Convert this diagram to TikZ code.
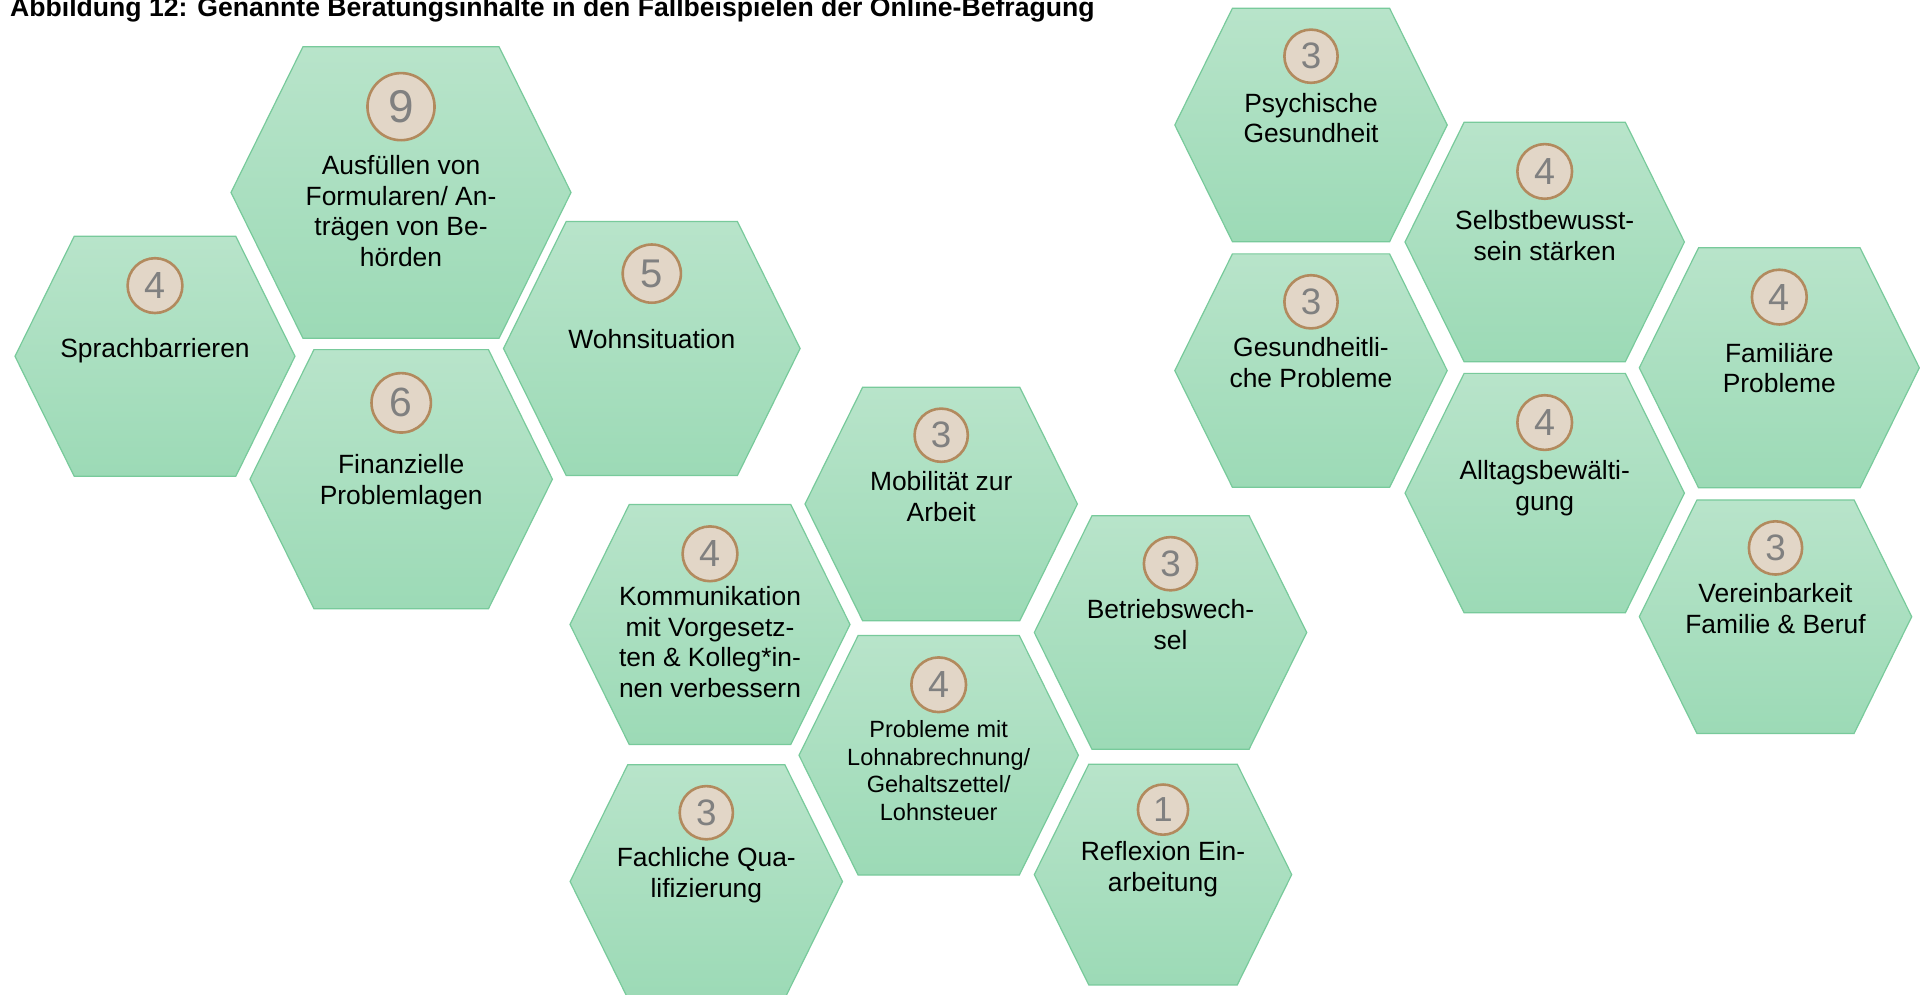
\documentclass[tikz,border=0pt]{standalone}
\usepackage{fontspec}
\setmainfont{Liberation Sans}
\definecolor{hextop}{HTML}{B8E4CA}
\definecolor{hexbot}{HTML}{9CDAB6}
\definecolor{hexline}{HTML}{78CA9B}
\definecolor{circfill}{HTML}{E2D6C7}
\definecolor{circline}{HTML}{B28A5E}
\definecolor{numgrey}{HTML}{808080}
\tikzset{
  hexfill/.style={draw=hexline, line width=1.2pt, top color=hextop, bottom color=hexbot, line join=miter},
  numcirc/.style={circle, fill=circfill, draw=circline, line width=2.6pt, inner sep=0pt, text=numgrey},
  hextext/.style={align=center, inner sep=0pt, anchor=north, text=black},
  bigfont/.style={font=\fontsize{26.4}{30.7}\selectfont},
  smallfont/.style={font=\fontsize{23.5}{27.6}\selectfont},
}
% #1 name, #2 cx, #3 cy, #4 half width, #5 number, #6 first baseline y, #7 text style, #8 first-line height, #9 text
\newcommand\hexcell[9]{%
  \pgfmathsetmacro\hxW{#4}%
  \pgfmathsetmacro\hxI{0.577*#4}%
  \pgfmathsetmacro\hxH{0.857*#4}%
  \pgfmathsetmacro\hxC{2*0.205*#4-2.6}%
  \pgfmathsetmacro\hxF{0.27*#4}%
  \path[hexfill] (#2-\hxW,#3) -- (#2-\hxI,#3-\hxH) -- (#2+\hxI,#3-\hxH) -- (#2+\hxW,#3) -- (#2+\hxI,#3+\hxH) -- (#2-\hxI,#3+\hxH) -- cycle;
  \node[numcirc, minimum size=\hxC pt, font=\fontsize{\hxF}{\hxF}\selectfont] (#1n) at (#2,#3-0.505*#4) {#5};
  \node[hextext, #7] (#1t) at (#2,#6-#8) {#9};
}
\begin{document}
\begin{tikzpicture}[x=1pt,y=-1pt]
\useasboundingbox (0,0) rectangle (1921,995);
\node[anchor=base west, inner sep=0pt, font=\bfseries\fontsize{26.6}{30}\selectfont] (title) at (10,16.5) {Abbildung 12: Genannte Beratungsinhalte in den Fallbeispielen der Online-Befragung};

\hexcell{formular}{401}{192.5}{170}{9}{174}{bigfont}{19}{Ausfüllen von\\Formularen/ An-\\trägen von Be-\\hörden}
\hexcell{sprach}{155}{356.3}{140}{4}{357.3}{bigfont}{19}{Sprachbarrieren}
\hexcell{finanz}{401.2}{479.2}{151.2}{6}{473.3}{bigfont}{19}{Finanzielle\\Problemlagen}
\hexcell{wohn}{651.8}{348.5}{148.3}{5}{348}{bigfont}{19}{Wohnsituation}
\hexcell{mobil}{941.2}{504}{136.2}{3}{490}{bigfont}{19}{Mobilität zur\\Arbeit}
\hexcell{komm}{710}{624.5}{140}{4}{605}{bigfont}{19}{Kommunikation\\mit Vorgesetz-\\ten \& Kolleg*in-\\nen verbessern}
\hexcell{betrieb}{1170.5}{632.5}{136.2}{3}{618.3}{bigfont}{19}{Betriebswech-\\sel}
\hexcell{lohn}{938.7}{755.3}{139.7}{4}{737.3}{smallfont}{16.9}{Probleme mit\\Lohnabrechnung/\\Gehaltszettel/\\Lohnsteuer}
\hexcell{fach}{706.3}{881.5}{136.2}{3}{866}{bigfont}{19}{Fachliche Qua-\\lifizierung}
\hexcell{reflex}{1163}{874.6}{128.7}{1}{860}{bigfont}{19}{Reflexion Ein-\\arbeitung}
\hexcell{psych}{1311}{125}{136.2}{3}{111.7}{bigfont}{19}{Psychische\\Gesundheit}
\hexcell{selbst}{1544.7}{242}{139.7}{4}{229.3}{bigfont}{19}{Selbstbewusst-\\sein stärken}
\hexcell{gesund}{1311}{370.6}{136.2}{3}{356.5}{bigfont}{19}{Gesundheitli-\\che Probleme}
\hexcell{famil}{1779.3}{367.8}{140}{4}{361.7}{bigfont}{19}{Familiäre\\Probleme}
\hexcell{alltag}{1544.7}{493.1}{139.7}{4}{479}{bigfont}{19}{Alltagsbewälti-\\gung}
\hexcell{verein}{1775.5}{616.7}{136.2}{3}{602.3}{bigfont}{19}{Vereinbarkeit\\Familie \& Beruf}
\end{tikzpicture}
\end{document}
